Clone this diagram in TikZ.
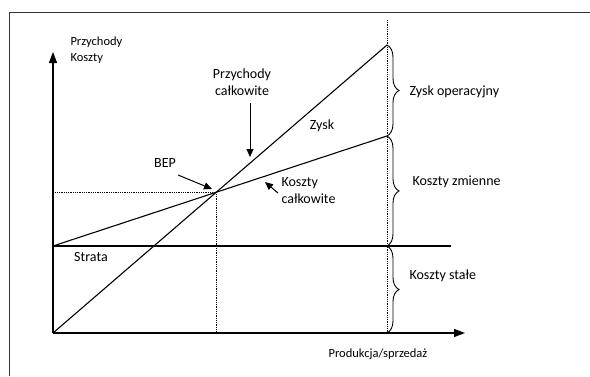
\documentclass[tikz,border=0pt]{standalone}
\usepackage{fontspec}
\setmainfont{Carlito}
\usetikzlibrary{arrows.meta,decorations.pathreplacing}

\begin{document}
\begin{tikzpicture}[
    x=1pt,
    y=1pt,
    line cap=butt,
    every node/.style={font=\fontsize{14}{17}\selectfont},
    small/.style={font=\fontsize{12.5}{16}\selectfont},
    curve/.style={line width=1.1pt},
    guide/.style={densely dotted,line width=0.8pt},
    axis/.style={line width=1.3pt,-{Triangle[length=11pt,width=8pt]}},
    pointer/.style={line width=1pt,-{Triangle[length=8pt,width=7pt]}},
    bracket/.style={decorate,decoration={brace,amplitude=12pt},line width=0.9pt}
]

\useasboundingbox (0,0) rectangle (590,376);

% Frame (only top and left edges visible)
\draw[black!80,line width=1pt] (9.5,0) -- (9.5,363) -- (590,363);

% Main points
\coordinate (O)    at (53,43);
\coordinate (ytip) at (53,324);
\coordinate (xtip) at (465,43);
\coordinate (R)    at (387,331);
\coordinate (C0)   at (53,130);
\coordinate (C1)   at (387,240);
\coordinate (F1)   at (451,130);
\coordinate (Q)    at (387,43);
\coordinate (Qtop) at (387,356);
\coordinate (Qf)   at (387,130);
\coordinate (B)    at (intersection of O--R and C0--C1);

% Axes
\draw[axis] (O) -- (ytip);
\draw[axis] (O) -- (xtip);

% Dotted guides
\draw[guide] (B) -- (B -| O);
\draw[guide] (B) -- (B |- O);
\draw[guide] (Qtop) -- (Q);

% Revenue, cost and fixed cost lines
\draw[curve] (O) -- (R);
\draw[curve] (C0) -- (C1);
\draw[curve] (C0) -- (F1);

% Braces with their labels
\foreach \p/\q/\x/\y/\t in {R/C1/406/284/Zysk operacyjny,
                             C1/Qf/409/194/Koszty zmienne,
                             Qf/Q/406/100/Koszty stałe}{
    \draw[bracket] (\p) -- (\q);
    \node[anchor=west] at (\x,\y) {\t};
}

% Axis labels
\node[small,align=left,anchor=west] (ylab) at (67,326) {Przychody\\Koszty};
\node[small] (xlab) at (378,22) {Produkcja/sprzedaż};

% Labels inside the chart
\node[align=center] (rev) at (242,294) {Przychody\\całkowite};
\node (zysk)   at (322,250) {Zysk};
\node (bep)    at (165,213) {BEP};
\node[align=left,anchor=west] (cost) at (278,185) {Koszty\\całkowite};
\node (strata) at (91,119) {Strata};

% Pointers
\coordinate (revA) at (250,273);
\coordinate (revB) at (250,219);
\coordinate (bepA) at (178,201);
\coordinate (bepB) at (212,187);
\coordinate (costA) at (278,183);
\coordinate (costB) at (265,194);
\draw[pointer] (revA) -- (revB);
\draw[pointer] (bepA) -- (bepB);
\draw[pointer] (costA) -- (costB);

\end{tikzpicture}
\end{document}
